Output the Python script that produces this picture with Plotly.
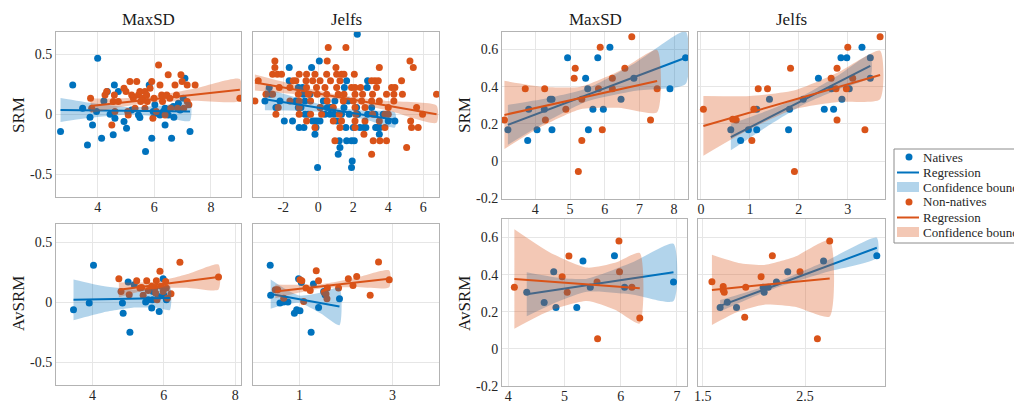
import plotly.graph_objects as go

# ---------------- data ----------------
# Panel A: SRM vs MaxSD (left block)
A_NAT_X = [2.69,3.12,4.0,3.47,3.64,3.73,3.82,3.96,4.14,4.22,4.34,4.44,4.59,4.55,4.73,4.61,4.93,5.02,5.2,5.44,5.49,5.69,5.82,5.91,5.96,6.02,6.08,6.2,6.32,6.38,6.38,6.49,6.61,6.67,6.69,6.91,7.02,7.08,7.26,6.85]
A_NAT_Y = [-0.144,0.244,0.467,0.05,-0.256,-0.025,-0.089,0.022,-0.2,0.111,0.189,0.0,0.244,-0.172,0.189,-0.033,-0.061,-0.117,0.036,-0.006,-0.028,-0.311,0.244,-0.2,0.022,0.078,0.008,-0.006,0.022,0.05,-0.089,-0.006,-0.2,0.064,-0.025,0.036,0.133,0.3,-0.144,0.092]
A_NON_X = [3.75,3.79,4.26,4.32,4.5,4.55,4.59,4.61,4.73,4.93,5.0,5.06,5.08,5.14,5.2,5.26,5.32,5.38,5.44,5.49,5.52,5.59,5.67,5.67,5.73,5.75,5.85,5.91,5.95,5.99,6.07,6.15,6.2,6.26,6.29,6.38,6.44,6.49,6.55,6.58,6.73,6.78,6.82,6.94,6.98,7.04,7.16,7.22,7.44,9.02,7.16]
A_NON_Y = [0.133,0.05,0.161,0.189,-0.089,0.106,0.161,0.022,0.106,0.217,0.189,0.022,-0.006,0.272,0.161,0.133,0.05,0.272,0.161,0.189,0.106,0.133,0.189,0.05,0.161,0.106,0.217,0.272,-0.033,0.133,0.022,0.411,0.244,0.161,0.106,-0.006,0.161,0.328,0.133,0.05,0.244,0.161,0.05,0.328,0.272,0.05,0.106,0.078,0.244,0.133,0.244]
A_NAT_FIT_X = [2.69, 7.26]
A_NAT_FIT_Y = [0.036, 0.022]
A_NAT_BAND_X = [2.69, 3.8, 5.2, 6.3, 7.26]
A_NAT_BAND_HI = [0.136, 0.094, 0.058, 0.073, 0.099]
A_NAT_BAND_LO = [-0.064, -0.028, -0.002, -0.023, -0.055]
A_NON_FIT_X = [3.75, 9.02]
A_NON_FIT_Y = [0.069, 0.203]
A_NON_BAND_X = [3.75, 4.8, 5.8, 7.4, 9.02]
A_NON_BAND_HI = [0.131, 0.133, 0.146, 0.212, 0.293]
A_NON_BAND_LO = [0.007, 0.059, 0.096, 0.112, 0.113]

# Panel B: SRM vs Jelfs (left block)
B_NAT_X = [2.23,0.06,-1.66,-0.38,-1.66,-1.14,-0.9,1.62,2.82,2.8,1.49,-3.05,-2.8,-2.76,-2.42,-2.19,-1.94,-1.47,-1.28,-1.14,-1.09,-0.82,-0.86,-0.76,-0.57,-0.48,-0.32,-0.19,-0.13,-0.19,-0.06,0.1,0.13,-0.04,0.29,0.38,0.51,0.67,0.76,0.9,1.05,1.2,1.24,1.14,1.33,1.47,1.58,1.62,1.71,1.77,1.9,1.94,1.9,2.0,2.06,2.19,2.25,2.38,2.61,2.72,2.82,3.05,3.24,3.28,3.37,3.49,3.52,3.71,4.0,4.38,-0.99,-0.76,0.95,0.7]
B_NAT_Y = [0.667,0.444,0.389,0.389,0.278,0.222,0.222,0.278,0.278,0.222,0.222,0.111,0.222,0.167,0.056,0.111,-0.056,-0.056,0.111,0.056,-0.111,-0.111,0.167,0.111,0.0,0.167,-0.056,-0.056,-0.111,-0.167,-0.056,-0.056,0.056,-0.444,0.111,0.0,0.056,0.0,0.056,0.0,-0.056,-0.222,-0.278,-0.333,0.0,0.056,-0.111,-0.222,0.111,0.0,-0.222,-0.389,-0.444,-0.111,-0.222,0.056,0.0,-0.111,-0.111,-0.111,0.0,0.056,0.0,-0.111,-0.111,-0.167,-0.111,0.0,-0.056,-0.056,0.056,0.0,0.111,0.056]
B_NON_X = [0.57,1.58,-2.48,0.51,-2.48,1.01,3.49,5.24,5.43,-3.43,-2.61,-2.34,-2.1,-1.09,-0.67,-0.19,0.48,1.05,1.33,1.47,2.06,-1.43,-1.28,-0.7,-0.32,0.1,0.7,1.24,3.05,3.24,3.43,4.76,-2.23,-1.62,-0.67,-0.1,0.38,1.05,1.9,2.1,2.42,3.33,4.19,4.38,-2.61,-1.14,-0.57,-0.06,0.48,1.14,1.47,2.1,2.53,3.1,3.9,4.32,4.81,6.76,-3.62,-2.99,-1.62,-1.09,-0.44,0.51,1.43,2.0,2.48,3.05,3.49,4.32,-2.29,-1.09,0.1,0.86,2.1,2.67,4.0,5.62,-2.42,-1.09,-0.44,0.19,1.2,2.15,3.1,3.81,5.96,-0.67,0.86,1.33,2.1,2.67,3.49,4.0,5.28,-0.19,1.24,2.1,3.81,5.33,5.71,2.61,3.14,3.52,0.95,3.9,3.05,5.05]
B_NON_Y = [0.556,0.556,0.444,0.444,0.389,0.389,0.389,0.444,0.389,0.278,0.333,0.333,0.333,0.333,0.333,0.333,0.333,0.333,0.333,0.333,0.333,0.278,0.278,0.278,0.278,0.278,0.278,0.278,0.278,0.278,0.278,0.278,0.222,0.222,0.222,0.222,0.222,0.222,0.222,0.222,0.222,0.222,0.222,0.222,0.167,0.167,0.167,0.167,0.167,0.167,0.167,0.167,0.167,0.167,0.167,0.167,0.167,0.167,0.111,0.167,0.111,0.111,0.111,0.111,0.111,0.111,0.111,0.111,0.111,0.111,0.056,0.056,0.056,0.056,0.056,0.056,0.056,0.056,0.0,0.0,0.0,0.0,0.0,0.0,0.0,0.0,0.0,-0.056,-0.056,-0.056,-0.056,-0.056,-0.056,0.0,-0.056,-0.111,-0.111,-0.111,-0.111,-0.111,-0.111,-0.167,-0.222,-0.222,-0.222,-0.222,-0.333,-0.278]
B_NAT_FIT_X = [-3.05, 4.38]
B_NAT_FIT_Y = [0.125, -0.047]
B_NAT_BAND_X = [-3.05, -1.1, 0.9, 2.7, 4.38]
B_NAT_BAND_HI = [0.218, 0.131, 0.056, 0.029, 0.016]
B_NAT_BAND_LO = [0.032, 0.029, 0.012, -0.045, -0.110]
B_NON_FIT_X = [-3.62, 6.76]
B_NON_FIT_Y = [0.264, 0.0]
B_NON_BAND_X = [-3.62, -1.2, 1.2, 4.0, 6.76]
B_NON_BAND_HI = [0.330, 0.240, 0.161, 0.110, 0.072]
B_NON_BAND_LO = [0.198, 0.165, 0.121, 0.030, -0.072]

# Panel C: AvSRM vs MaxSD (left block)
C_NAT_X = [3.47,3.91,4.03,5.0,4.84,4.86,5.05,5.17,5.49,5.66,5.7,5.68,5.87,5.98,6.0,6.07,5.84,5.56]
C_NAT_Y = [-0.064,-0.008,0.306,0.167,-0.008,-0.092,-0.25,0.144,0.0,-0.05,0.089,0.019,-0.078,0.194,0.056,0.019,0.047,0.019]
C_NON_X = [4.74,4.8,5.03,5.24,5.38,5.42,5.52,5.56,5.79,5.75,5.77,5.81,5.89,5.92,5.98,6.05,6.07,6.1,6.2,6.45,7.53,5.33,5.66]
C_NON_Y = [0.194,0.089,0.061,0.178,0.122,0.056,0.178,0.097,0.178,0.117,0.075,0.019,0.256,0.131,0.089,0.172,0.117,0.033,0.069,0.331,0.208,0.117,0.131]
C_NAT_FIT_X = [3.47, 6.17]
C_NAT_FIT_Y = [0.02, 0.035]
C_NAT_BAND_X = [3.47, 4.3, 5.2, 5.8, 6.17]
C_NAT_BAND_HI = [0.189, 0.134, 0.104, 0.112, 0.133]
C_NAT_BAND_LO = [-0.151, -0.086, -0.046, -0.048, -0.066]
C_NON_FIT_X = [4.74, 7.53]
C_NON_FIT_Y = [0.103, 0.208]
C_NON_BAND_X = [4.74, 5.3, 5.8, 6.7, 7.53]
C_NON_BAND_HI = [0.165, 0.162, 0.171, 0.236, 0.312]
C_NON_BAND_LO = [0.041, 0.086, 0.115, 0.118, 0.104]

# Panel D: AvSRM vs Jelfs (left block)
D_NAT_X = [0.37,0.38,0.98,1.04,1.3,0.58,0.66,0.75,0.89,0.94,1.01,1.25,1.41,1.86,1.52,1.55]
D_NAT_Y = [0.306,0.056,0.194,0.164,0.15,-0.008,0.0,0.0,-0.092,-0.064,-0.072,-0.25,-0.044,0.028,0.089,0.061]
D_NON_X = [0.48,0.66,1.01,1.05,1.36,1.41,1.14,1.23,1.09,1.53,1.57,1.59,1.6,2.05,2.15,2.23,2.52,2.7,2.93,1.84,0.53]
D_NON_Y = [0.103,0.033,0.186,0.178,0.261,0.178,0.117,0.097,0.006,0.081,0.067,0.028,0.117,0.194,0.139,0.214,0.056,0.333,0.186,0.117,0.103]
D_NAT_FIT_X = [0.38, 1.86]
D_NAT_FIT_Y = [0.067, -0.036]
D_NAT_BAND_X = [0.38, 0.7, 1.0, 1.45, 1.86]
D_NAT_BAND_HI = [0.189, 0.109, 0.054, 0.078, 0.12]
D_NAT_BAND_LO = [-0.055, -0.02, -0.006, -0.093, -0.192]
D_NON_FIT_X = [0.48, 2.93]
D_NON_FIT_Y = [0.089, 0.194]
D_NON_BAND_X = [0.48, 1.0, 1.5, 2.2, 2.93]
D_NON_BAND_HI = [0.147, 0.144, 0.151, 0.201, 0.264]
D_NON_BAND_LO = [0.031, 0.079, 0.115, 0.125, 0.124]

# Panel E: SRM vs MaxSD (right block)
E_NAT_X = [3.21,3.78,3.81,4.05,4.26,4.43,4.48,4.48,4.93,5.45,5.51,5.53,5.66,5.8,5.96,6.15,6.47,6.84,7.88,8.33]
E_NAT_Y = [0.168,0.111,0.279,0.168,0.279,0.332,0.332,0.168,0.555,0.445,0.388,0.168,0.279,0.555,0.279,0.611,0.332,0.445,0.388,0.555]
E_NON_X = [3.11,3.71,4.27,4.29,4.88,5.12,5.15,5.34,5.34,5.24,5.82,5.87,5.93,6.22,6.22,6.58,6.78,7.32,7.51]
E_NON_Y = [0.221,0.388,0.388,0.221,0.279,0.445,0.498,0.332,0.111,-0.055,0.388,0.611,0.168,0.445,0.388,0.498,0.668,0.221,0.388]
E_NAT_FIT_X = [3.21, 8.33]
E_NAT_FIT_Y = [0.195, 0.555]
E_NAT_BAND_X = [3.21, 4.3, 5.5, 6.9, 8.33]
E_NAT_BAND_HI = [0.302, 0.336, 0.391, 0.530, 0.696]
E_NAT_BAND_LO = [0.088, 0.209, 0.321, 0.378, 0.414]
E_NON_FIT_X = [3.11, 7.51]
E_NON_FIT_Y = [0.248, 0.43]
E_NON_BAND_X = [3.11, 4.2, 5.3, 6.4, 7.51]
E_NON_BAND_HI = [0.431, 0.399, 0.399, 0.482, 0.597]
E_NON_BAND_LO = [0.065, 0.188, 0.279, 0.286, 0.263]

# Panel F: SRM vs Jelfs (right block)
F_NAT_X = [0.61,0.81,0.97,1.14,1.14,1.4,1.81,1.79,2.09,2.4,2.52,2.71,2.67,2.86,2.98,2.88,3.03,3.29,3.46,3.46]
F_NAT_Y = [0.168,0.111,0.168,0.168,0.279,0.332,0.279,0.168,0.332,0.445,0.279,0.279,0.388,0.555,0.555,0.332,0.388,0.611,0.555,0.445]
F_NON_X = [0.05,0.65,0.72,1.04,1.08,1.17,1.36,1.83,1.91,2.66,2.76,2.78,2.78,2.97,3.0,3.1,3.35,3.66]
F_NON_Y = [0.279,0.225,0.221,0.111,0.279,0.388,0.388,0.498,-0.055,0.445,0.388,0.221,0.498,0.388,0.611,0.445,0.168,0.668]
F_NAT_FIT_X = [0.61, 3.46]
F_NAT_FIT_Y = [0.129, 0.511]
F_NAT_BAND_X = [0.61, 1.35, 2.1, 2.8, 3.46]
F_NAT_BAND_HI = [0.2, 0.27, 0.354, 0.46, 0.571]
F_NAT_BAND_LO = [0.058, 0.186, 0.304, 0.384, 0.451]
F_NON_FIT_X = [0.05, 3.66]
F_NON_FIT_Y = [0.189, 0.4625]
F_NON_BAND_X = [0.05, 1.0, 1.9, 2.8, 3.66]
F_NON_BAND_HI = [0.349, 0.35, 0.379, 0.476, 0.5925]
F_NON_BAND_LO = [0.029, 0.172, 0.279, 0.318, 0.3325]

# Panel G: AvSRM vs MaxSD (right block)
G_NAT_X = [4.33,4.64,4.81,4.85,5.22,5.33,5.46,5.89,6.07,6.94]
G_NAT_Y = [0.305,0.25,0.416,0.223,0.223,0.473,0.332,0.502,0.332,0.361]
G_NON_X = [4.11,4.96,5.05,5.08,5.58,5.59,5.97,5.98,6.2,6.34]
G_NON_Y = [0.332,0.389,0.305,0.5,0.361,0.055,0.582,0.416,0.332,0.166]
G_NAT_FIT_X = [4.33, 6.94]
G_NAT_FIT_Y = [0.295, 0.4125]
G_NAT_BAND_X = [4.33, 4.9, 5.4, 6.2, 6.94]
G_NAT_BAND_HI = [0.4135, 0.384, 0.378, 0.465, 0.567]
G_NAT_BAND_LO = [0.1765, 0.257, 0.308, 0.2935, 0.258]
G_NON_FIT_X = [4.11, 6.34]
G_NON_FIT_Y = [0.377, 0.327]
G_NON_BAND_X = [4.11, 4.75, 5.4, 5.9, 6.34]
G_NON_BAND_HI = [0.645, 0.5185, 0.4381, 0.4636, 0.517]
G_NON_BAND_LO = [0.109, 0.2069, 0.2581, 0.2104, 0.137]

# Panel H: AvSRM vs Jelfs (right block)
H_NAT_X = [1.67,1.74,1.83,2.09,2.1,2.14,2.22,2.33,2.68,3.2]
H_NAT_Y = [0.223,0.252,0.223,0.332,0.305,0.332,0.361,0.416,0.473,0.502]
H_NON_X = [1.59,1.7,1.7,1.71,1.92,1.91,2.07,2.18,2.45,2.62,2.74]
H_NON_Y = [0.362,0.336,0.318,0.305,0.332,0.17,0.389,0.502,0.416,0.055,0.582]
H_NAT_FIT_X = [1.67, 3.2]
H_NAT_FIT_Y = [0.232, 0.545]
H_NAT_BAND_X = [1.67, 1.95, 2.2, 2.7, 3.2]
H_NAT_BAND_HI = [0.263, 0.309, 0.3554, 0.4727, 0.599]
H_NAT_BAND_LO = [0.201, 0.2696, 0.3254, 0.4127, 0.491]
H_NON_FIT_X = [1.59, 2.74]
H_NON_FIT_Y = [0.318, 0.38]
H_NON_BAND_X = [1.59, 1.85, 2.1, 2.4, 2.74]
H_NON_BAND_HI = [0.507, 0.463, 0.4525, 0.4964, 0.585]
H_NON_BAND_LO = [0.129, 0.201, 0.2385, 0.227, 0.175]

# Axis ticks
LEFT_Y_TICKS = [-0.5, 0, 0.5]
LEFT_Y_LABELS = ["-0.5", "0", "0.5"]
RIGHT_Y_TICKS = [-0.2, 0, 0.2, 0.4, 0.6]
RIGHT_Y_LABELS = ["-0.2", "0", "0.2", "0.4", "0.6"]
A_X_TICKS = [4, 6, 8]
B_X_TICKS = [-2, 0, 2, 4, 6]
C_X_TICKS = [4, 6, 8]
D_X_TICKS = [1, 3]
E_X_TICKS = [4, 5, 6, 7, 8]
F_X_TICKS = [0, 1, 2, 3]
G_X_TICKS = [4, 5, 6, 7]
H_X_TICKS = [1.5, 2.5]
H_X_LABELS = ["1.5", "2.5"]

COL_TITLES = ["MaxSD", "Jelfs", "MaxSD", "Jelfs"]
ROW_LABELS = ["SRM", "AvSRM"]
LEGEND_NAMES = ["Natives", "Regression", "Confidence bounds", "Non-natives", "Regression", "Confidence bounds"]

# ---------------- styling ----------------
PAGE_OFF = 8                 # default body margin of the html page
W, H = 1022 - PAGE_OFF, 403 - PAGE_OFF
BLUE = "#0072BD"
ORANGE = "#D95319"
BLUE_FILL = "rgba(0,114,189,0.30)"
ORANGE_FILL = "rgba(217,83,25,0.32)"
FONT = "Liberation Serif"
TXT = "#262626"

def px_x(v):
    return (v - PAGE_OFF) / W

def px_y(v):
    return 1 - (v - PAGE_OFF) / H

def px_dom_x(a, b):
    return [px_x(a), px_x(b)]

def px_dom_y(top, bot):
    return [px_y(bot), px_y(top)]

panels = [
    dict(d=dict(nx=A_NAT_X, ny=A_NAT_Y, ox=A_NON_X, oy=A_NON_Y,
                nfx=A_NAT_FIT_X, nfy=A_NAT_FIT_Y, nbx=A_NAT_BAND_X, nbh=A_NAT_BAND_HI, nbl=A_NAT_BAND_LO,
                ofx=A_NON_FIT_X, ofy=A_NON_FIT_Y, obx=A_NON_BAND_X, obh=A_NON_BAND_HI, obl=A_NON_BAND_LO),
         box=(56, 241, 32, 197), xr=[2.53, 9.06], yr=[-0.69, 0.685], xt=A_X_TICKS, xl=None,
         yt=LEFT_Y_TICKS, yl=LEFT_Y_LABELS, show_y=True),
    dict(d=dict(nx=B_NAT_X, ny=B_NAT_Y, ox=B_NON_X, oy=B_NON_Y,
                nfx=B_NAT_FIT_X, nfy=B_NAT_FIT_Y, nbx=B_NAT_BAND_X, nbh=B_NAT_BAND_HI, nbl=B_NAT_BAND_LO,
                ofx=B_NON_FIT_X, ofy=B_NON_FIT_Y, obx=B_NON_BAND_X, obh=B_NON_BAND_HI, obl=B_NON_BAND_LO),
         box=(253, 439, 32, 197), xr=[-3.73, 6.9], yr=[-0.69, 0.685], xt=B_X_TICKS, xl=None,
         yt=LEFT_Y_TICKS, yl=LEFT_Y_LABELS, show_y=False),
    dict(d=dict(nx=C_NAT_X, ny=C_NAT_Y, ox=C_NON_X, oy=C_NON_Y,
                nfx=C_NAT_FIT_X, nfy=C_NAT_FIT_Y, nbx=C_NAT_BAND_X, nbh=C_NAT_BAND_HI, nbl=C_NAT_BAND_LO,
                ofx=C_NON_FIT_X, ofy=C_NON_FIT_Y, obx=C_NON_BAND_X, obh=C_NON_BAND_HI, obl=C_NON_BAND_LO),
         box=(56, 241, 224, 385), xr=[2.98, 8.16], yr=[-0.69, 0.65], xt=C_X_TICKS, xl=None,
         yt=LEFT_Y_TICKS, yl=LEFT_Y_LABELS, show_y=True),
    dict(d=dict(nx=D_NAT_X, ny=D_NAT_Y, ox=D_NON_X, oy=D_NON_Y,
                nfx=D_NAT_FIT_X, nfy=D_NAT_FIT_Y, nbx=D_NAT_BAND_X, nbh=D_NAT_BAND_HI, nbl=D_NAT_BAND_LO,
                ofx=D_NON_FIT_X, ofy=D_NON_FIT_Y, obx=D_NON_BAND_X, obh=D_NON_BAND_HI, obl=D_NON_BAND_LO),
         box=(253, 439, 224, 385), xr=[0.0, 4.0], yr=[-0.69, 0.65], xt=D_X_TICKS, xl=None,
         yt=LEFT_Y_TICKS, yl=LEFT_Y_LABELS, show_y=False),
    dict(d=dict(nx=E_NAT_X, ny=E_NAT_Y, ox=E_NON_X, oy=E_NON_Y,
                nfx=E_NAT_FIT_X, nfy=E_NAT_FIT_Y, nbx=E_NAT_BAND_X, nbh=E_NAT_BAND_HI, nbl=E_NAT_BAND_LO,
                ofx=E_NON_FIT_X, ofy=E_NON_FIT_Y, obx=E_NON_BAND_X, obh=E_NON_BAND_HI, obl=E_NON_BAND_LO),
         box=(502, 688, 32, 199), xr=[3.04, 8.4], yr=[-0.203, 0.693], xt=E_X_TICKS, xl=None,
         yt=RIGHT_Y_TICKS, yl=RIGHT_Y_LABELS, show_y=True),
    dict(d=dict(nx=F_NAT_X, ny=F_NAT_Y, ox=F_NON_X, oy=F_NON_Y,
                nfx=F_NAT_FIT_X, nfy=F_NAT_FIT_Y, nbx=F_NAT_BAND_X, nbh=F_NAT_BAND_HI, nbl=F_NAT_BAND_LO,
                ofx=F_NON_FIT_X, ofy=F_NON_FIT_Y, obx=F_NON_BAND_X, obh=F_NON_BAND_HI, obl=F_NON_BAND_LO),
         box=(698, 885, 32, 199), xr=[-0.06, 3.76], yr=[-0.203, 0.693], xt=F_X_TICKS, xl=None,
         yt=RIGHT_Y_TICKS, yl=RIGHT_Y_LABELS, show_y=False),
    dict(d=dict(nx=G_NAT_X, ny=G_NAT_Y, ox=G_NON_X, oy=G_NON_Y,
                nfx=G_NAT_FIT_X, nfy=G_NAT_FIT_Y, nbx=G_NAT_BAND_X, nbh=G_NAT_BAND_HI, nbl=G_NAT_BAND_LO,
                ofx=G_NON_FIT_X, ofy=G_NON_FIT_Y, obx=G_NON_BAND_X, obh=G_NON_BAND_HI, obl=G_NON_BAND_LO),
         box=(502, 687, 219, 386), xr=[3.89, 7.18], yr=[-0.2, 0.7], xt=G_X_TICKS, xl=None,
         yt=RIGHT_Y_TICKS, yl=RIGHT_Y_LABELS, show_y=True),
    dict(d=dict(nx=H_NAT_X, ny=H_NAT_Y, ox=H_NON_X, oy=H_NON_Y,
                nfx=H_NAT_FIT_X, nfy=H_NAT_FIT_Y, nbx=H_NAT_BAND_X, nbh=H_NAT_BAND_HI, nbl=H_NAT_BAND_LO,
                ofx=H_NON_FIT_X, ofy=H_NON_FIT_Y, obx=H_NON_BAND_X, obh=H_NON_BAND_HI, obl=H_NON_BAND_LO),
         box=(698, 885, 219, 386), xr=[1.454, 3.28], yr=[-0.2, 0.7], xt=H_X_TICKS, xl=H_X_LABELS,
         yt=RIGHT_Y_TICKS, yl=RIGHT_Y_LABELS, show_y=False),
]

fig = go.Figure()
layout = dict(
    template="none",
    width=W, height=H, margin=dict(l=0, r=0, t=0, b=0, autoexpand=False),
    paper_bgcolor="white", plot_bgcolor="white",
    font=dict(family=FONT, size=13, color=TXT),
    showlegend=False,
)

for i, p in enumerate(panels):
    k = i + 1
    xa = "x" if k == 1 else f"x{k}"
    ya = "y" if k == 1 else f"y{k}"
    d = p["d"]
    fig.add_trace(go.Scatter(x=d["nx"], y=d["ny"], mode="markers", xaxis=xa, yaxis=ya,
                             marker=dict(color=BLUE, size=7, line=dict(width=0)),
                             name=LEGEND_NAMES[0]))
    fig.add_trace(go.Scatter(x=d["ox"], y=d["oy"], mode="markers", xaxis=xa, yaxis=ya,
                             marker=dict(color=ORANGE, size=7, line=dict(width=0)),
                             name=LEGEND_NAMES[3]))
    fig.add_trace(go.Scatter(x=d["nfx"], y=d["nfy"], mode="lines", xaxis=xa, yaxis=ya,
                             line=dict(color=BLUE, width=2), name=LEGEND_NAMES[1]))
    fig.add_trace(go.Scatter(x=list(d["nbx"]) + list(d["nbx"])[::-1],
                             y=list(d["nbh"]) + list(d["nbl"])[::-1],
                             mode="lines", fill="toself", fillcolor=BLUE_FILL,
                             line=dict(width=0, color=BLUE_FILL, shape="spline", smoothing=0.6),
                             xaxis=xa, yaxis=ya, name=LEGEND_NAMES[2]))
    fig.add_trace(go.Scatter(x=d["ofx"], y=d["ofy"], mode="lines", xaxis=xa, yaxis=ya,
                             line=dict(color=ORANGE, width=2), name=LEGEND_NAMES[4]))
    fig.add_trace(go.Scatter(x=list(d["obx"]) + list(d["obx"])[::-1],
                             y=list(d["obh"]) + list(d["obl"])[::-1],
                             mode="lines", fill="toself", fillcolor=ORANGE_FILL,
                             line=dict(width=0, color=ORANGE_FILL, shape="spline", smoothing=0.6),
                             xaxis=xa, yaxis=ya, name=LEGEND_NAMES[5]))

    x0, x1, y0, y1 = p["box"]
    xkey = "xaxis" if k == 1 else f"xaxis{k}"
    ykey = "yaxis" if k == 1 else f"yaxis{k}"
    layout[xkey] = dict(
        domain=px_dom_x(x0, x1), range=p["xr"], anchor=ya, automargin=False,
        tickmode="array", tickvals=p["xt"],
        ticktext=p["xl"] if p["xl"] else [str(v) for v in p["xt"]],
        showgrid=True, gridcolor="#e6e6e6", gridwidth=1,
        showline=True, linecolor="#b3b3b3", linewidth=1, mirror=True,
        zeroline=False, ticks="", ticklabelstandoff=-3,
        tickfont=dict(family=FONT, size=14, color=TXT),
    )
    layout[ykey] = dict(
        domain=px_dom_y(y0, y1), range=p["yr"], anchor=xa, automargin=False,
        tickmode="array", tickvals=p["yt"], ticktext=p["yl"],
        showticklabels=p["show_y"],
        showgrid=True, gridcolor="#e6e6e6", gridwidth=1,
        showline=True, linecolor="#b3b3b3", linewidth=1, mirror=True,
        zeroline=False, ticks="", tickfont=dict(family=FONT, size=14, color=TXT),
    )

annotations = []
title_x = [148.5, 346, 595, 791.5]
for t, xc in zip(COL_TITLES, title_x):
    annotations.append(dict(text=t, x=px_x(xc), y=px_y(19), xref="paper", yref="paper",
                            xanchor="center", yanchor="middle", showarrow=False,
                            font=dict(family=FONT, size=17, color="#1a1a1a")))
for lab, yc in zip(ROW_LABELS, [115, 304]):
    for xc in [18, 464]:
        annotations.append(dict(text=lab, x=px_x(xc), y=px_y(yc), xref="paper", yref="paper",
                                xanchor="center", yanchor="middle", showarrow=False, textangle=-90,
                                font=dict(family=FONT, size=17, color="#1a1a1a")))

# ---- legend drawn as shapes + text ----
LEG_ROWS = [157, 172.5, 187, 202, 217.5, 232]
shapes = [dict(type="rect", xref="paper", yref="paper",
               x0=px_x(894), x1=px_x(1040), y0=px_y(243), y1=px_y(149),
               line=dict(color="#8c8c8c", width=1), fillcolor="white", layer="above")]
for row, col, fill in [(0, BLUE, BLUE_FILL), (3, ORANGE, ORANGE_FILL)]:
    yd = LEG_ROWS[row]
    shapes.append(dict(type="circle", xref="paper", yref="paper",
                       x0=px_x(905.5), x1=px_x(912.5), y0=px_y(yd + 3.5), y1=px_y(yd - 3.5),
                       fillcolor=col, line=dict(width=0), layer="above"))
    yl = LEG_ROWS[row + 1]
    shapes.append(dict(type="line", xref="paper", yref="paper",
                       x0=px_x(897), x1=px_x(919), y0=px_y(yl), y1=px_y(yl),
                       line=dict(color=col, width=2), layer="above"))
    yb = LEG_ROWS[row + 2]
    shapes.append(dict(type="rect", xref="paper", yref="paper",
                       x0=px_x(897), x1=px_x(919), y0=px_y(yb + 5), y1=px_y(yb - 5),
                       fillcolor=fill, line=dict(width=0), layer="above"))
for name, yr in zip(LEGEND_NAMES, LEG_ROWS):
    annotations.append(dict(text=name, x=px_x(921), y=px_y(yr), xref="paper", yref="paper",
                            xanchor="left", yanchor="middle", showarrow=False,
                            font=dict(family=FONT, size=13, color=TXT)))

layout["annotations"] = annotations
layout["shapes"] = shapes

fig.update_layout(**layout)
fig.write_html("out.html")
